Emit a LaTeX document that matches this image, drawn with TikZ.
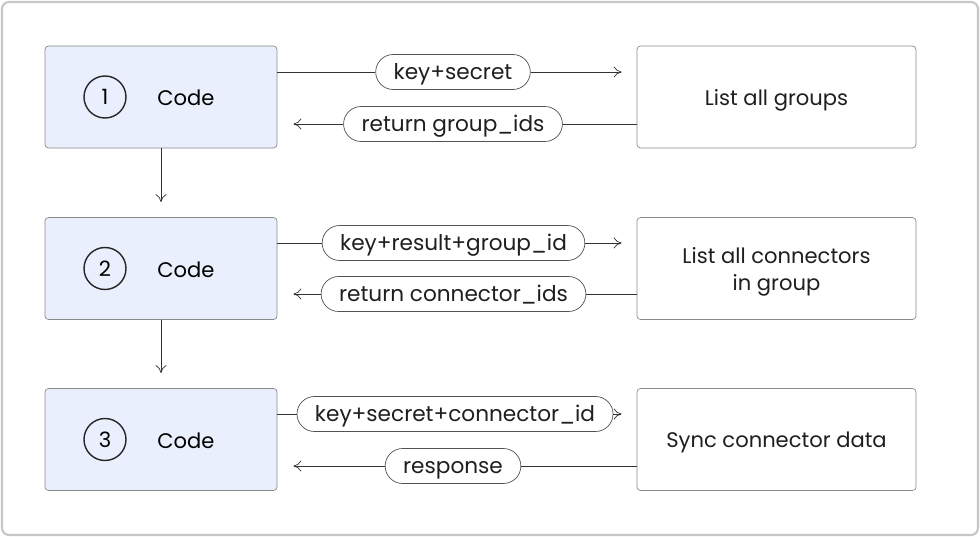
\documentclass[tikz,border=0pt]{standalone}
\usepackage{fontspec}
\setmainfont{Poppins}
\usepackage{tikz}
\usetikzlibrary{positioning,arrows.meta,calc}

\definecolor{codefill}{HTML}{E9EFFC}
\definecolor{boxline}{HTML}{8A8A8A}
\definecolor{wire}{HTML}{333333}
\definecolor{frameline}{HTML}{C6C6C6}

\begin{document}
\begin{tikzpicture}[
    font=\fontsize{12pt}{15pt}\selectfont,
    box/.style={draw=boxline, rounded corners=2pt, minimum height=2.04cm, align=center, text=black!88},
    codebox/.style={box, fill=codefill, minimum width=4.64cm},
    target/.style={box, fill=white, minimum width=5.58cm},
    tgtext/.style={align=center, text=black!88, yshift=-1.8pt},
    num/.style={circle, draw=black!85, thick, minimum size=0.84cm, inner sep=0pt},
    pill/.style={draw=wire!85, fill=white, rounded corners=0.35cm, minimum height=0.7cm, inner xsep=0.36cm, inner ysep=0pt, text height=1.05em, text depth=0.2em, text=black!88, font=\fontsize{12.3pt}{15pt}\selectfont},
    arr/.style={-{To[length=1.6mm, width=2.2mm]}, wire},
    wire/.style={draw=wire},
]
\useasboundingbox (0,0) rectangle (19.6,-10.74);
\draw[frameline, line width=1.2pt, rounded corners=4pt] (0.04,-0.04) rectangle (19.56,-10.70);

% Left column: code steps
\node[codebox] (code1) at (3.22,-1.94) {};
\node[codebox] (code2) at (3.22,-5.37) {};
\node[codebox] (code3) at (3.22,-8.79) {};

% Right column: API calls
\node[target] (groups) at (15.53,-1.94) {};
\node[target] (conns) at (15.53,-5.37) {};
\node[target] (sync) at (15.53,-8.79) {};
\node[tgtext] (groupstxt) at (groups) {List all groups};
\node[tgtext] (connstxt) at (conns) {List all connectors\\in group};
\node[tgtext] (synctxt) at (sync) {Sync connector data};

% Step numbers and labels
\foreach \i in {1,2,3}{
  \node[num] (num\i) at ([xshift=-1.12cm]code\i.center) {\i};
  \node (lbl\i) at ([xshift=0.5cm, yshift=-0.6pt]code\i.center) {Code};
}

% Pills on the request / reply lines
\node[pill] (req1) at (9.06,-1.44) {key+secret};
\node[pill] (rep1) at (9.06,-2.48) {return group\_ids};
\node[pill] (req2) at (9.07,-4.86) {key+result+group\_id};
\node[pill] (rep2) at (9.07,-5.88) {return connector\_ids};
\node[pill] (req3) at (9.10,-8.28) {key+secret+connector\_id};
\node[pill] (rep3) at (9.06,-9.32) {response};

% Requests: code -> service
\foreach \c/\r/\t in {code1/req1/groups, code2/req2/conns, code3/req3/sync}{
  \draw[wire] (\c.east |- \r) -- (\r.west);
  \draw[arr] (\r.east) -- ($(\t.west |- \r)+(-0.3,0)$);
}

% Replies: service -> code
\foreach \c/\r/\t in {code1/rep1/groups, code2/rep2/conns, code3/rep3/sync}{
  \draw[wire] (\t.west |- \r) -- (\r.east);
  \draw[arr] (\r.west) -- ($(\c.east |- \r)+(0.32,0)$);
}

% Next step
\draw[arr] (code1.south) -- ($(code2.north)+(0,0.3)$);
\draw[arr] (code2.south) -- ($(code3.north)+(0,0.3)$);

\end{tikzpicture}
\end{document}
